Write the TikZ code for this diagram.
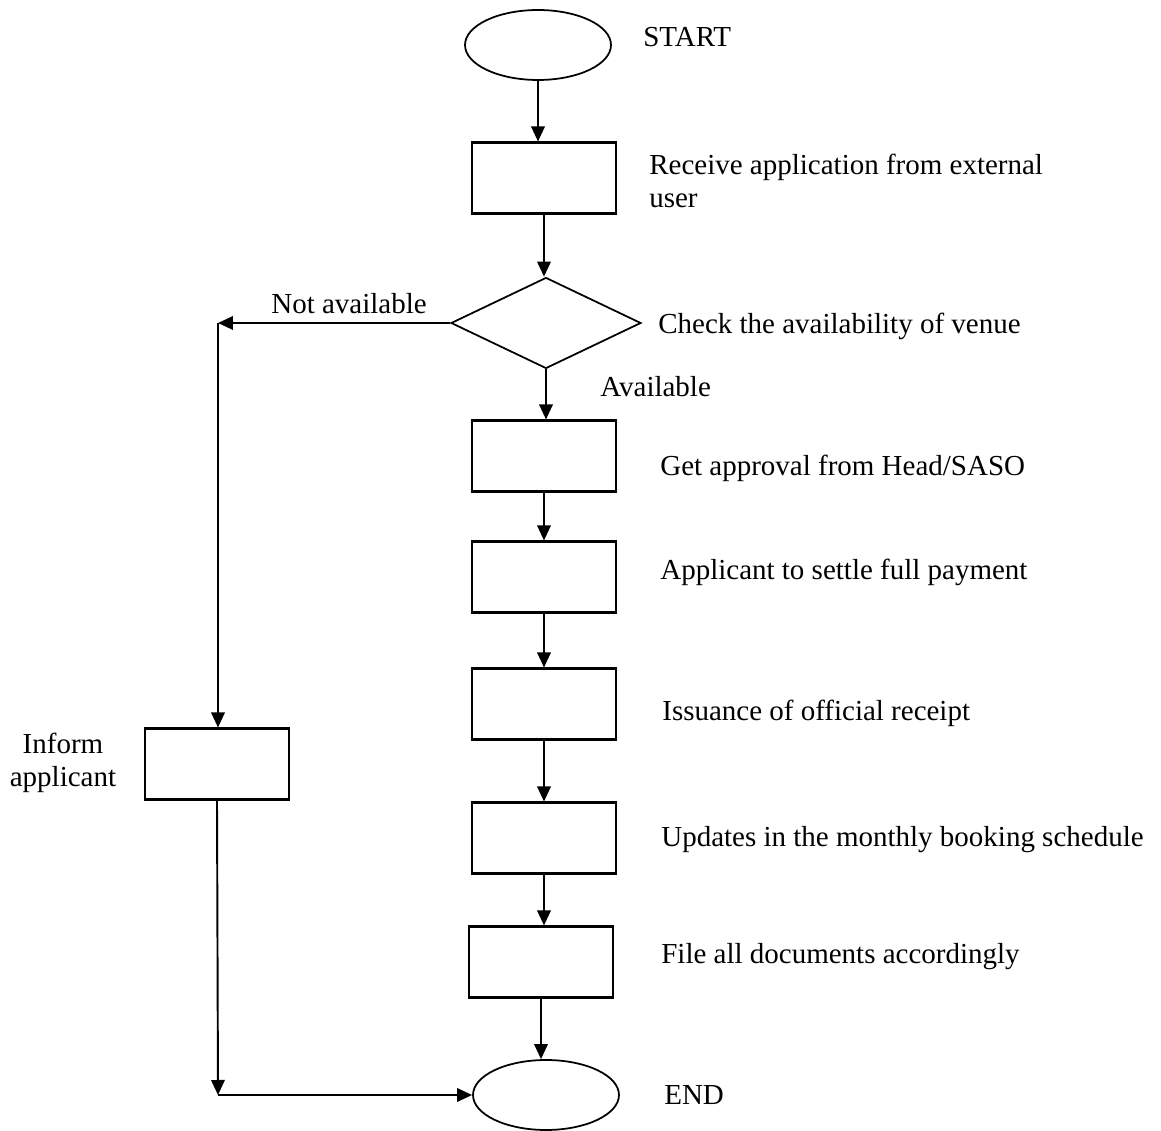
\documentclass[tikz,border=0pt]{standalone}
\usepackage{fontspec}
\setmainfont{Liberation Serif}
\usetikzlibrary{shapes.geometric,arrows.meta}
\begin{document}
\begin{tikzpicture}[x=0.02cm,y=-0.02cm,
    every node/.style={font=\fontsize{16.5}{18.8}\selectfont},
    term/.style={draw,ellipse,line width=1pt,minimum width=2.92cm,minimum height=1.4cm,inner sep=0pt},
    proc/.style={draw,rectangle,line width=1.2pt,minimum width=2.88cm,minimum height=1.42cm,inner sep=0pt},
    check/.style={draw,diamond,line width=1pt,minimum width=3.8cm,minimum height=1.82cm,inner sep=0pt},
    lbl/.style={anchor=west,align=left,inner sep=0pt},
    arr/.style={line width=1.1pt,-{Triangle[length=3mm,width=2.7mm]}}]
  \useasboundingbox (0,0) rectangle (1161,1131);
  % shapes
  \node[term]  (start)  at (538,45)   {};
  \node[proc]  (recv)   at (544,178)  {};
  \node[check] (chk)    at (546,323)  {};
  \node[proc]  (appr)   at (544,456)  {};
  \node[proc]  (pay)    at (544,577)  {};
  \node[proc]  (rcpt)   at (544,704)  {};
  \node[proc]  (upd)    at (544,838)  {};
  \node[proc]  (file)   at (541,962)  {};
  \node[term]  (end)    at (546,1095) {};
  \node[proc]  (inform) at (217,764)  {};
  \coordinate (na) at (218,323);
  \coordinate (nb) at (218,1095);
  % texts
  \node[lbl] (tstart)  at (643,37)   {START};
  \node[lbl] (trecv)   at (649,181)  {Receive application from external\\user};
  \node[lbl] (tchk)    at (658,326)  {Check the availability of venue};
  \node[lbl] (tno)     at (271,304)  {Not available};
  \node[lbl] (tyes)    at (600,387)  {Available};
  \node[lbl] (tappr)   at (660,468)  {Get approval from Head/SASO};
  \node[lbl] (tpay)    at (660,572)  {Applicant to settle full payment};
  \node[lbl] (trcpt)   at (662,713)  {Issuance of official receipt};
  \node[lbl] (tupd)    at (661,840)  {Updates in the monthly booking schedule};
  \node[lbl] (tfile)   at (661,957)  {File all documents accordingly};
  \node[lbl] (tend)    at (664,1095) {END};
  \node[align=center,inner sep=0pt] (tinform) at (63,763) {Inform\\applicant};
  % connectors
  \begin{scope}[arr]
    \draw (start.south) -- (start.south |- recv.north);
    \draw (recv.south) -- (recv.south |- chk.north);
    \draw (chk.south) -- (chk.south |- appr.north);
    \draw (appr.south) -- (appr.south |- pay.north);
    \draw (pay.south) -- (pay.south |- rcpt.north);
    \draw (rcpt.south) -- (rcpt.south |- upd.north);
    \draw (upd.south) -- (upd.south |- file.north);
    \draw (file.south) -- (file.south |- end.north);
    \draw (chk.west) -- (na);
    \draw (na) -- (na |- inform.north);
    \draw (inform.south) -- (nb);
    \draw (nb) -- (end.west);
  \end{scope}
\end{tikzpicture}
\end{document}
